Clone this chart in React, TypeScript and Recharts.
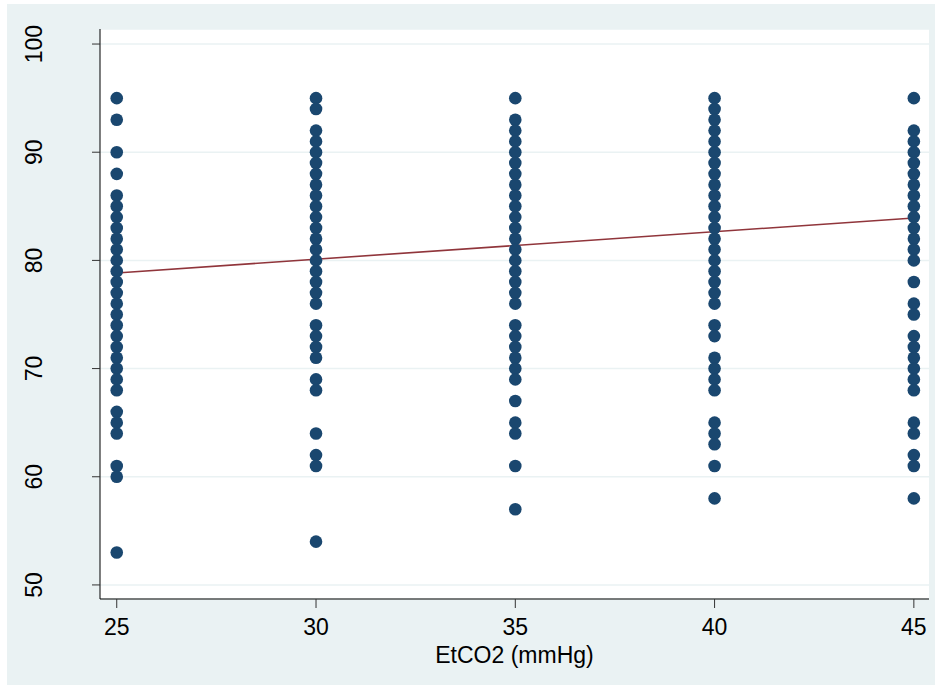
import React from "react";
import {
  ScatterChart,
  Scatter,
  XAxis,
  YAxis,
  CartesianGrid,
  ReferenceLine,
} from "recharts";

// pulse values seen at each EtCO2 level
const etco2Levels = [25, 30, 35, 40, 45];
const hr25 = [95, 93, 90, 88, 86, 85, 84, 83, 82, 81, 80, 79, 78, 77, 76, 75, 74, 73, 72, 71, 70, 69, 68, 66, 65, 64, 61, 60, 53];
const hr30 = [95, 94, 92, 91, 90, 89, 88, 87, 86, 85, 84, 83, 82, 81, 80, 79, 78, 77, 76, 74, 73, 72, 71, 69, 68, 64, 62, 61, 54];
const hr35 = [95, 93, 92, 91, 90, 89, 88, 87, 86, 85, 84, 83, 82, 81, 80, 79, 78, 77, 76, 74, 73, 72, 71, 70, 69, 67, 65, 64, 61, 57];
const hr40 = [95, 94, 93, 92, 91, 90, 89, 88, 87, 86, 85, 84, 83, 82, 81, 80, 79, 78, 77, 76, 74, 73, 71, 70, 69, 68, 65, 64, 63, 61, 58];
const hr45 = [95, 92, 91, 90, 89, 88, 87, 86, 85, 84, 83, 82, 81, 80, 78, 76, 75, 73, 72, 71, 70, 69, 68, 65, 64, 62, 61, 58];

// fitted line endpoints
const fitLine = [
  { x: 25, y: 78.84 },
  { x: 45, y: 83.92 },
];

const xTicks = [25, 30, 35, 40, 45];
const yTicks = [50, 60, 70, 80, 90, 100];

const columns = [hr25, hr30, hr35, hr40, hr45];
const points = columns.flatMap((col, i) =>
  col.map((v) => ({ x: etco2Levels[i], y: v }))
);

const FONT = "'Liberation Sans', Arial, sans-serif";

function Dot(props: any) {
  const { cx, cy } = props;
  return <circle cx={cx} cy={cy} r={6.3} fill="#1a476f" />;
}

function XTick(props: any) {
  const { x, y, payload } = props;
  return (
    <text x={x} y={y} dy={17} textAnchor="middle" fill="#000" fontSize={23} fontFamily={FONT}>
      {payload.value}
    </text>
  );
}

function YTick(props: any) {
  const { x, y, payload } = props;
  return (
    <text
      x={x}
      y={y}
      textAnchor="middle"
      fill="#000"
      fontSize={23}
      fontFamily={FONT}
      transform={`rotate(-90, ${x}, ${y})`}
    >
      {payload.value}
    </text>
  );
}

export default function App() {
  return (
    <div style={{ position: "relative", width: 942, height: 689, background: "#fff" }}>
      <style>{"body{margin:0}"}</style>
      <div
        style={{
          position: "absolute",
          left: 7,
          top: 4,
          width: 928,
          height: 681,
          background: "#eaf2f3",
        }}
      />
      <div style={{ position: "absolute", left: 0, top: 0 }}>
        <ScatterChart width={942} height={689} margin={{ top: 29, right: 13, bottom: 0, left: 0 }}>
          <CartesianGrid
            vertical={false}
            fill="#ffffff"
            fillOpacity={1}
            stroke="#eaf2f3"
            strokeWidth={1.5}
          />
          <XAxis
            type="number"
            dataKey="x"
            domain={[24.58, 45.38]}
            ticks={xTicks}
            height={90}
            tickSize={9}
            tickMargin={10}
            tick={<XTick />}
            axisLine={{ stroke: "#000", strokeWidth: 1 }}
            tickLine={{ stroke: "#333", strokeWidth: 1 }}
            label={{
              value: "EtCO2 (mmHg)",
              position: "insideBottom",
              offset: 26,
              fill: "#000",
              fontSize: 23,
              fontFamily: FONT,
            }}
          />
          <YAxis
            type="number"
            dataKey="y"
            domain={[48.7, 101.39]}
            ticks={yTicks}
            width={100}
            tickSize={8}
            tickMargin={50}
            tick={<YTick />}
            axisLine={{ stroke: "#000", strokeWidth: 1 }}
            tickLine={{ stroke: "#333", strokeWidth: 1 }}
          />
          <Scatter data={points} shape={<Dot />} isAnimationActive={false} />
          <ReferenceLine
            segment={fitLine}
            stroke="#90353b"
            strokeWidth={1.6}
            ifOverflow="visible"
          />
        </ScatterChart>
      </div>
    </div>
  );
}
